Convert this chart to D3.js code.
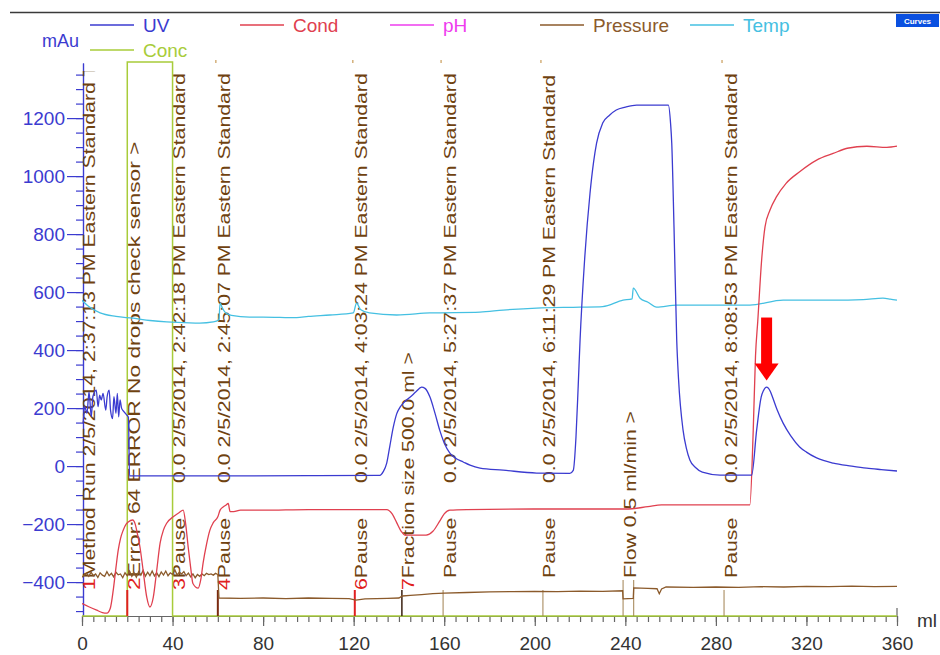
<!DOCTYPE html>
<html><head><meta charset="utf-8">
<script src="https://cdn.jsdelivr.net/npm/d3@7"></script>
<style>
body{margin:0;background:#fff;}
svg{font-family:"Liberation Sans",Arial,sans-serif;}
</style></head>
<body><svg id="c" width="940" height="655"></svg>
<script>
// ---------- DATA ----------
const xTicks = [0,40,80,120,160,200,240,280,320,360];
const yTicks = [-400,-200,0,200,400,600,800,1000,1200];

const uvData = [[0.5,147],[1.2,205],[2.2,182],[3.1,256],[4.1,170],[4.8,239],[6.3,262],[7.1,205],[7.8,245],[8.5,228],[9.3,251],[10.5,193],[11.1,239],[12.0,262],[12.6,193],[13.5,164],[14.1,239],[15.0,182],[15.6,251],[16.2,170],[16.8,228],[17.5,199],[18.6,187],[19.8,176],[20.5,168],[21,-34],[60,-34],[100,-33],[131.6,-32],[133,-20],[134.6,10],[136,70],[137.5,134],[139,180],[140.5,203],[142.5,222],[145,238],[147.5,256],[150,272],[151.5,268],[153.7,238],[156,180],[158,124],[160,80],[162.5,45],[165,27],[168.4,14],[171.4,3],[175.8,-7],[186,-14],[200.8,-24],[215.5,-25],[217,-15],[218.2,100],[219.2,280],[220,434],[222,710],[224.4,941],[226,1050],[227.3,1114],[230,1183],[233,1210],[236,1228],[240,1238],[245,1245],[252,1245],[259,1245],[260,1180],[260.5,1114],[261.5,824],[262.7,434],[263.5,300],[265.5,124],[267,60],[268.5,21],[271,-5],[274,-21],[281.8,-31],[295.8,-31],[298,124],[300,238],[301,260],[302.4,272],[304,258],[305,238],[307,195],[309.7,148],[313,105],[317,66],[320,48],[324.5,28],[331.8,10],[340,0],[346.6,-7],[353,-12],[360,-17]];

const condData = [[0,-474],[3,-485],[6.5,-497],[9,-505],[11,-507],[12.5,-490],[13.8,-428],[15,-350],[16,-290],[17,-250],[18.2,-221],[19.5,-200],[20.4,-193],[22.4,-186],[23.5,-200],[24.5,-235],[25.6,-279],[27,-360],[28.6,-452],[30,-486],[31.5,-452],[33,-360],[34.5,-266],[36,-220],[37.4,-197],[40.3,-175],[43,-160],[44.7,-152],[45.8,-200],[46.9,-279],[48,-350],[49,-405],[51.3,-421],[52.5,-390],[53.5,-334],[55,-270],[56.5,-221],[58,-195],[60,-175],[61,-152],[62.5,-140],[63.5,-135],[64.6,-129],[65.4,-157],[67,-157],[70,-152],[80,-152],[100,-150],[134.6,-150],[137,-165],[139,-195],[141,-225],[142.7,-238],[152,-238],[155,-225],[158,-190],[160,-165],[162.5,-152],[170,-150],[200,-148],[240,-148],[250,-140],[256,-134],[295,-134],[296.5,124],[297.5,380],[298.5,500],[300.2,710],[301.7,825],[303.9,883],[306.8,929],[311,975],[317,1015],[324.5,1055],[331.8,1078],[338,1096],[346.7,1103],[355.5,1099],[360,1103]];

const tempData = [[0,572],[3,550],[8,528],[15,516],[22.6,510],[30,502],[37.4,497],[45,495],[52,493],[58,497],[60.5,505],[61,562],[62,545],[63.5,528],[66,520],[74,514],[80,514],[94.8,512],[100,516],[109.5,521],[119.8,528],[121.3,562],[123,540],[127,528],[139,521],[153.7,528],[175.8,531],[186,538],[200.8,545],[220,548],[230,550],[239,572],[243,577],[243.5,614],[246.5,579],[250,565],[253.8,548],[262.7,555],[281.8,555],[295,555],[309.7,572],[331.7,572],[345,574],[353.8,579],[357,576],[360,572]];

const pressureData = [[0,-383],[1,-376],[2,-370],[3,-380],[4,-366],[5,-378],[6,-372],[7,-384],[8,-368],[9,-376],[10,-380],[11,-364],[12,-378],[13,-370],[14,-382],[15,-366],[16,-375],[17,-372],[18,-385],[19,-368],[20,-378],[21,-362],[22,-380],[23,-368],[24,-383],[25,-364],[26,-376],[27,-360],[28,-380],[29,-366],[30,-378],[31,-362],[32,-379],[33,-368],[34,-381],[35,-365],[36,-376],[37,-362],[38,-378],[39,-368],[40,-374],[41,-358],[42,-375],[43,-366],[44,-372],[45,-364],[46,-378],[47,-369],[48,-382],[49,-372],[50,-385],[51,-374],[52,-380],[53,-372],[54,-378],[55,-370],[56,-374],[57,-372],[58,-376],[59,-370],[60,-374],[60.5,-455],[70,-456],[80,-455],[90,-457],[100,-455],[110,-456],[118,-457],[121,-462],[125,-458],[135,-456],[140,-455],[141.5,-448],[145,-446],[150,-443],[155,-440],[160,-438],[170,-436],[180,-434],[190,-433],[200,-432],[210,-433],[220,-431],[230,-432],[238.8,-430],[239,-458],[243.5,-456],[243.7,-420],[250,-422],[254,-423],[255,-440],[256,-424],[258,-417],[270,-418],[280,-417],[290,-418],[300,-416],[310,-417],[320,-415],[330,-416],[340,-414],[350,-416],[360,-415]];

const concData = [[0,0],[20,0],[20,100],[40,100],[40,0],[360,0]];

const eventMl    = [0, 20, 40, 60, 120.5, 141.3, 159.5, 203.6, 239, 243.7, 283.6];
const eventNum   = ["1","2","3","4","6","7","","","","",""];
const eventText  = ["Method Run 2/5/2014, 2:37:13 PM Eastern Standard T","Error: 64 ERROR No drops check sensor >","Pause","Pause","Pause","Fraction size 500.0 ml >","Pause","Pause","Flow 0.5 ml/min >","","Pause"];
const eventKind  = ["none","red","none","dark","red","black","thin","thin","thin","thin","thin"];

const stampMl   = [40, 60, 120.5, 159.5, 203.6, 283.6];
const stampText = ["0.0 2/5/2014, 2:42:18 PM Eastern Standard","0.0 2/5/2014, 2:45:07 PM Eastern Standard","0.0 2/5/2014, 4:03:24 PM Eastern Standard","0.0 2/5/2014, 5:27:37 PM Eastern Standard","0.0 2/5/2014, 6:11:29 PM Eastern Standard","0.0 2/5/2014, 8:08:53 PM Eastern Standard"];

const legendNames = ["UV","Cond","pH","Pressure","Temp","Conc"];
const arrowPeak = [302.4, 295];

// ---------- DRAW ----------
const C = {UV:"#3b3bd0", Cond:"#e0404f", pH:"#ee3cee", Pressure:"#8b5a2b", Temp:"#45c0e2", Conc:"#a8cc3a"};
const brown = "#6f4210";
const svg = d3.select("#c");
const x = d3.scaleLinear().domain([0,360]).range([82,897]);
const y = d3.scaleLinear().domain([-517,1390]).range([616,63]);
const yc = d3.scaleLinear().domain([0,100]).range([616,62]);

// top border
svg.append("line").attr("x1",10).attr("x2",940).attr("y1",12.5).attr("y2",12.5).attr("stroke","#3a3a3a").attr("stroke-width",1.6);
// Curves button
svg.append("rect").attr("x",896).attr("y",14).attr("width",43).attr("height",13).attr("fill","#0a50e0");
svg.append("text").attr("x",917.5).attr("y",24).attr("text-anchor","middle").attr("font-size",8).attr("font-weight","bold").attr("fill","#fff").text("Curves");

// legend
const legPos = [[90,25],[240,25],[390,25],[540,25],[690,25],[90,50]];
legendNames.forEach((n,i)=>{
  const [lx,ly]=legPos[i];
  svg.append("line").attr("x1",lx).attr("x2",lx+44).attr("y1",ly).attr("y2",ly).attr("stroke",C[n]).attr("stroke-width",1.5);
  svg.append("text").attr("x",lx+53).attr("y",ly+7).attr("font-size",19).attr("fill",C[n]).text(n);
});
svg.append("text").attr("x",42).attr("y",47).attr("font-size",18).attr("fill",C.UV).text("mAu");

// axes
const gy = svg.append("g").attr("transform","translate(83,0)");
gy.call(d3.axisLeft(y).tickValues(d3.range(-500,1351,50)).tickSize(7).tickSizeOuter(0).tickFormat(""));
const gy2 = svg.append("g").attr("transform","translate(83,0)");
gy2.call(d3.axisLeft(y).tickValues(yTicks).tickSize(16).tickSizeOuter(0).tickPadding(2).tickFormat(d3.format("d")));
[gy,gy2].forEach(g=>{g.selectAll("path,line").attr("stroke",C.UV).attr("stroke-width",1.2);});
gy2.selectAll("text").attr("font-size",19).attr("fill",C.UV).attr("font-family","Liberation Sans, Arial, sans-serif");

const gx = svg.append("g").attr("transform","translate(0,616)");
gx.call(d3.axisBottom(x).tickValues(d3.range(0,361,5)).tickSize(6).tickSizeOuter(0).tickFormat(""));
const gx2 = svg.append("g").attr("transform","translate(0,616)");
gx2.call(d3.axisBottom(x).tickValues(xTicks).tickSize(10).tickSizeOuter(0).tickPadding(11));
[gx,gx2].forEach(g=>{g.selectAll("path,line").attr("stroke","#666").attr("stroke-width",1.2);});
gx2.selectAll("text").attr("font-size",19).attr("fill","#333").attr("font-family","Liberation Sans, Arial, sans-serif");
svg.append("line").attr("x1",x(360)).attr("x2",x(360)).attr("y1",608).attr("y2",616).attr("stroke","#666").attr("stroke-width",1.2);
svg.append("text").attr("x",917).attr("y",627).attr("font-size",19).attr("fill","#333").text("ml");

// clip
const defs = svg.append("defs");
defs.append("clipPath").attr("id","plot").append("rect").attr("x",82).attr("y",60).attr("width",816).attr("height",557);
defs.append("clipPath").attr("id","txt").append("rect").attr("x",82).attr("y",71).attr("width",816).attr("height",546);

// event texts
const tG = svg.append("g").attr("clip-path","url(#txt)");
function rotText(px, py, parts){
  const t = tG.append("text").attr("font-size",17)
    .attr("transform",`translate(${px},${py}) rotate(-90) scale(1.25,1)`);
  parts.forEach(([s,col])=>{ if(s) t.append("tspan").attr("fill",col).text(s); });
  return t;
}
eventMl.forEach((m,i)=>{
  if(!eventText[i]) return;
  const start = eventNum[i] ? 590 : 578;
  const t = rotText(x(m)+12.5, start, [[eventNum[i],"#e02020"],[eventText[i],brown]]);
  if(i===1) t.attr("transform",`translate(${x(m)+12.5},${start}) rotate(-90) scale(1.34,1)`);
});
stampMl.forEach((m,i)=>{
  rotText(x(m)+12.5, 483, [[stampText[i],brown]]);
});

// curves
const pG = svg.append("g").attr("clip-path","url(#plot)");
const lineLin = d3.line().x(d=>x(d[0])).y(d=>y(d[1]));
const lineSm = d3.line().x(d=>x(d[0])).y(d=>y(d[1])).curve(d3.curveMonotoneX);
const lineConc = d3.line().x(d=>x(d[0])).y(d=>yc(d[1]));
pG.append("path").attr("d",lineConc(concData)).attr("fill","none").attr("stroke",C.Conc).attr("stroke-width",1.5);

// event lines
const evColor = {red:"#e02020", dark:"#7a2a10", black:"#3a2010", thin:"#a08050", none:"none"};
const evWidth = {red:2, dark:2, black:1.5, thin:1, none:0};
const evG = svg.append("g");
eventMl.forEach((m,i)=>{
  const k = eventKind[i];
  if(k==="none") return;
  const top = (m>=239 && m<=244) ? 580 : 590;
  evG.append("line").attr("x1",x(m)).attr("x2",x(m)).attr("y1",top).attr("y2",616)
    .attr("stroke",evColor[k]).attr("stroke-width",evWidth[k]);
});
stampMl.slice(1).forEach(m=>{
  evG.append("line").attr("x1",x(m)-2).attr("x2",x(m)-2).attr("y1",60).attr("y2",63).attr("stroke","#d4b07a").attr("stroke-width",1.5);
});

const pG2 = svg.append("g").attr("clip-path","url(#plot)");
pG2.append("path").attr("d",lineLin(pressureData)).attr("fill","none").attr("stroke",C.Pressure).attr("stroke-width",1.3);
pG2.append("path").attr("d",lineSm(tempData)).attr("fill","none").attr("stroke",C.Temp).attr("stroke-width",1.3);
pG2.append("path").attr("d",lineSm(condData)).attr("fill","none").attr("stroke",C.Cond).attr("stroke-width",1.3);
pG2.append("path").attr("d",lineSm(uvData)).attr("fill","none").attr("stroke",C.UV).attr("stroke-width",1.3);

// red arrow annotation
const ax = x(arrowPeak[0]), ay = y(arrowPeak[1]);
svg.append("rect").attr("x",ax-5.5).attr("y",ay-63).attr("width",11).attr("height",50).attr("fill","#ff0000");
svg.append("path").attr("d",`M${ax-12},${ay-17}L${ax+12},${ay-17}L${ax},${ay}Z`).attr("fill","#ff0000");
</script></body></html>
